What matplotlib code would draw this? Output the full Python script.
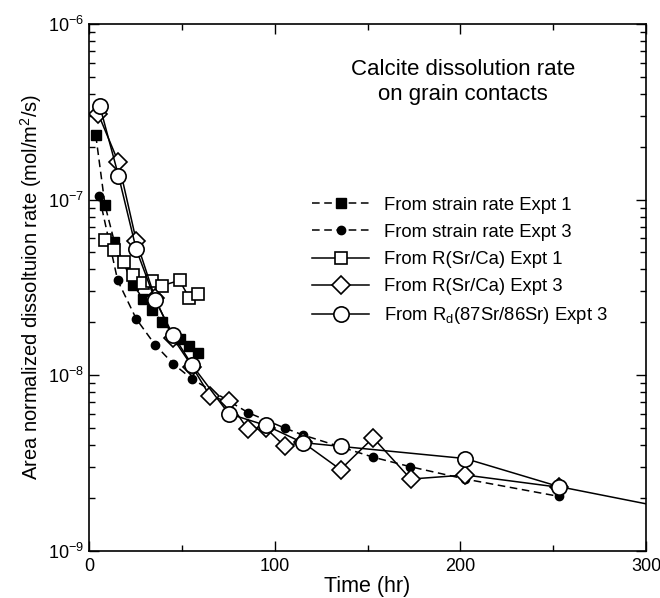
import matplotlib
matplotlib.use("Agg")
import matplotlib.pyplot as plt
from matplotlib.ticker import MultipleLocator, LogLocator

plt.rcParams['font.family'] = ['Liberation Sans', 'DejaVu Sans']
plt.rcParams['mathtext.fontset'] = 'custom'
plt.rcParams['mathtext.rm'] = 'Liberation Sans'
plt.rcParams['mathtext.it'] = 'Liberation Sans:italic'

# strain rate, Expt 1 (filled squares)
t_sr1 = [3.6, 8.6, 13.6, 23.8, 29, 34, 39, 48.7, 53.9, 58.4]
rate_sr1 = [2.32e-7, 9.25e-8, 5.75e-8, 3.26e-8, 2.73e-8, 2.35e-8, 2.02e-8, 1.61e-8, 1.46e-8, 1.33e-8]

# strain rate, Expt 3 (filled circles)
t_sr3 = [5.4, 15.4, 25.4, 35.5, 45.3, 55.5, 85.6, 105.3, 115, 153, 173, 202.6, 253]
rate_sr3 = [1.05e-7, 3.46e-8, 2.09e-8, 1.49e-8, 1.16e-8, 9.5e-9, 6.12e-9, 5.0e-9, 4.57e-9,
            3.41e-9, 3.01e-9, 2.56e-9, 2.04e-9]

# R(Sr/Ca), Expt 1 (open squares)
t_rs1 = [8.6, 13.6, 18.6, 23.8, 29, 34, 39, 48.7, 53.9, 58.9]
rate_rs1 = [5.9e-8, 5.13e-8, 4.41e-8, 3.7e-8, 3.34e-8, 3.43e-8, 3.23e-8, 3.46e-8, 2.76e-8, 2.9e-8]

# R(Sr/Ca), Expt 3 (open diamonds)
t_rs3 = [5, 15.8, 25.4, 35.5, 45.3, 55.5, 65.2, 75.2, 85.4, 95.1, 105.3, 115, 135.4, 153,
         173.2, 202.6, 253]
rate_rs3 = [3.06e-7, 1.63e-7, 5.82e-8, 2.75e-8, 1.62e-8, 1.12e-8, 7.57e-9, 7.08e-9, 4.93e-9,
            5.0e-9, 3.94e-9, 4.15e-9, 2.9e-9, 4.4e-9, 2.56e-9, 2.7e-9, 2.3e-9]

# Rd(87Sr/86Sr), Expt 3 (open circles)
t_rd3 = [5.7, 15.8, 25.4, 35.5, 45.3, 55.5, 75.2, 95.1, 115, 135.4, 202.6, 253]
rate_rd3 = [3.43e-7, 1.37e-7, 5.2e-8, 2.69e-8, 1.69e-8, 1.14e-8, 6.03e-9, 5.18e-9, 4.13e-9,
            3.93e-9, 3.35e-9, 2.32e-9]

# line running on past the last point
t_tail = [253, 300]
rate_tail = [2.32e-9, 1.85e-9]

fig = plt.figure(figsize=(6.6, 5.98), dpi=100)
ax = fig.add_axes([0.135, 0.079, 0.844, 0.881])

dash = (0, (5, 3))
ax.plot(t_tail, rate_tail, '-', color='black', lw=1.1)
ax.plot(t_sr1, rate_sr1, linestyle=dash, color='black', lw=1.1, marker='s', ms=6.5,
        mfc='black', mec='black', label='From strain rate Expt 1', zorder=3)
ax.plot(t_sr3, rate_sr3, linestyle=dash, color='black', lw=1.1, marker='o', ms=6,
        mfc='black', mec='black', label='From strain rate Expt 3', zorder=3)
ax.plot(t_rs1, rate_rs1, '-', color='black', lw=1.1, marker='s', ms=9,
        mfc='white', mec='black', mew=1.2, label='From R(Sr/Ca) Expt 1', zorder=4)
ax.plot(t_rs3, rate_rs3, '-', color='black', lw=1.1, marker='D', ms=9,
        mfc='white', mec='black', mew=1.2, label='From R(Sr/Ca) Expt 3', zorder=4)
ax.plot(t_rd3, rate_rd3, '-', color='black', lw=1.1, marker='o', ms=11,
        mfc='white', mec='black', mew=1.2, label='From R$_\\mathregular{d}$(87Sr/86Sr) Expt 3', zorder=5)

ax.set_yscale('log')
ax.set_xlim(0, 300)
ax.set_ylim(1e-9, 1e-6)
ax.xaxis.set_major_locator(MultipleLocator(100))
ax.xaxis.set_minor_locator(MultipleLocator(50))
ax.yaxis.set_major_locator(LogLocator(base=10, numticks=10))
ax.yaxis.set_minor_locator(LogLocator(base=10, subs=range(2, 10), numticks=20))
ax.tick_params(which='both', direction='in', top=True, right=True, width=1.0, labelsize=13)
ax.tick_params(which='major', length=7)
ax.tick_params(which='minor', length=4)
ax.tick_params(axis='x', pad=5)
for s in ax.spines.values():
    s.set_linewidth(1.2)

ax.set_xlabel('Time (hr)', fontsize=15.5, labelpad=1)
ax.set_ylabel('Area normalized dissoltuion rate (mol/m$^2$/s)', fontsize=14.5, labelpad=3)

ax.text(0.671, 0.889, 'Calcite dissolution rate\non grain contacts', transform=ax.transAxes,
        ha='center', va='center', fontsize=16, linespacing=1.25)

ax.legend(loc='upper left', bbox_to_anchor=(0.40, 0.672), frameon=False, fontsize=13.3,
          handlelength=3.1, handletextpad=0.8, labelspacing=0.55, borderpad=0, borderaxespad=0)

fig.savefig('out.png', dpi=100)
